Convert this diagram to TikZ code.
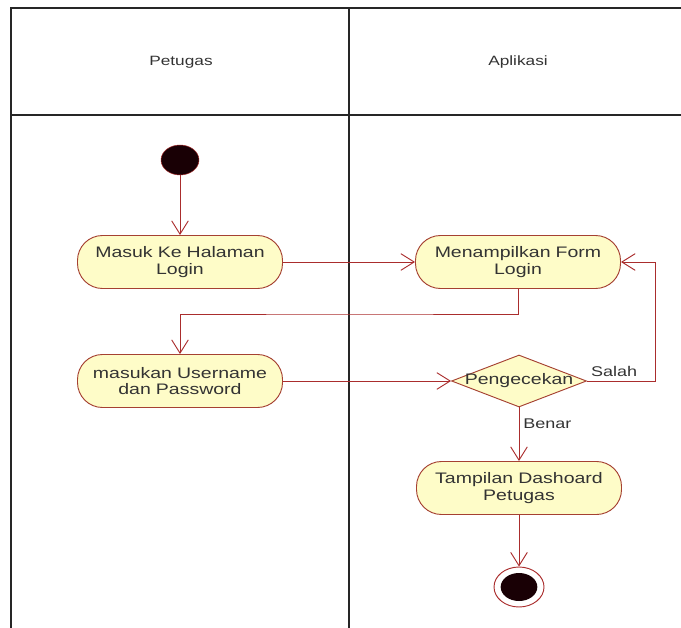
\documentclass[tikz,border=0pt]{standalone}
\usepackage{fontspec}
\setmainfont{Liberation Sans}[FakeStretch=1.28]
\usetikzlibrary{shapes.geometric, arrows.meta}
\definecolor{umlred}{RGB}{170,45,45}
\definecolor{umlborder}{RGB}{165,65,50}
\definecolor{umlfill}{RGB}{254,252,200}
\definecolor{umlblack}{RGB}{25,0,5}
\tikzstyle{arrow} = [umlred, line width=0.8pt, -{Straight Barb[length=4mm, width=5mm]}]

\begin{document}
\begin{tikzpicture}[
  x=0.03cm, y=-0.03cm,
  lane/.style={line width=1.3pt, draw=black!85},
  head/.style={font=\fontsize{11.5}{13}\selectfont, text=black!80},
  act/.style={rectangle, draw=umlborder, fill=umlfill, rounded corners=0.75cm, line width=0.8pt, text width=5.6cm, align=center, minimum width=6.15cm, minimum height=1.59cm, font=\fontsize{13}{14}\selectfont, text=black!80},
  check/.style={diamond, draw=umlborder, fill=umlfill, line width=0.8pt, inner sep=0pt, minimum width=4.05cm, minimum height=1.56cm, font=\fontsize{13}{14}\selectfont, text=black!80},
  start/.style={ellipse, draw=umlred, fill=umlblack, inner sep=0pt, minimum width=1.14cm, minimum height=0.9cm},
  stop/.style={ellipse, draw=umlred, fill=white, line width=0.8pt, inner sep=0pt, minimum width=1.5cm, minimum height=1.2cm,
    path picture={\fill[umlblack] (path picture bounding box.center) ellipse (0.55cm and 0.42cm);}},
  lbl/.style={font=\fontsize{12}{13}\selectfont, text=black!80}
]
\useasboundingbox (0,0) rectangle (681,628);

% swimlanes
\draw[lane] (11,628) -- (11,8) -- (681,8);
\draw[lane] (11,115) -- (681,115);
\draw[lane] (349,8) -- (349,628);
\node[head] (petugas) at (181,62) {Petugas};
\node[head] (aplikasi) at (518,62) {Aplikasi};

% activities
\node[start] (init) at (180,160) {};
\node[act] (masuk) at (180,262) {Masuk Ke Halaman\\Login};
\node[act] (form) at (518,262) {Menampilkan Form\\Login};
\node[act] (user) at (180,381) {masukan Username\\dan Password};
\node[check] (cek) at (519,381) {\makebox[0pt]{Pengecekan}};
\node[act] (dash) at (519,488) {Tampilan Dashoard\\Petugas};
\node[stop] (end) at (519,587) {};

% flow
\coordinate (turn) at (350,314);
\coordinate (back) at (655,381);
\draw[arrow] (init) -- (masuk);
\draw[arrow] (masuk.east) -- (form.west);
\draw[arrow] (form.south) |- (turn) -| (user.north);
\draw[arrow] (user.east) -- (cek.west);
\draw[arrow] (cek.east) -- (back) node[pos=0.4, above, lbl] {Salah} |- (form.east);
\draw[arrow] (cek.south) -- (dash.north) node[pos=0.3, right, lbl] {Benar};
\draw[arrow] (dash.south) -- (end.north);
\end{tikzpicture}
\end{document}
